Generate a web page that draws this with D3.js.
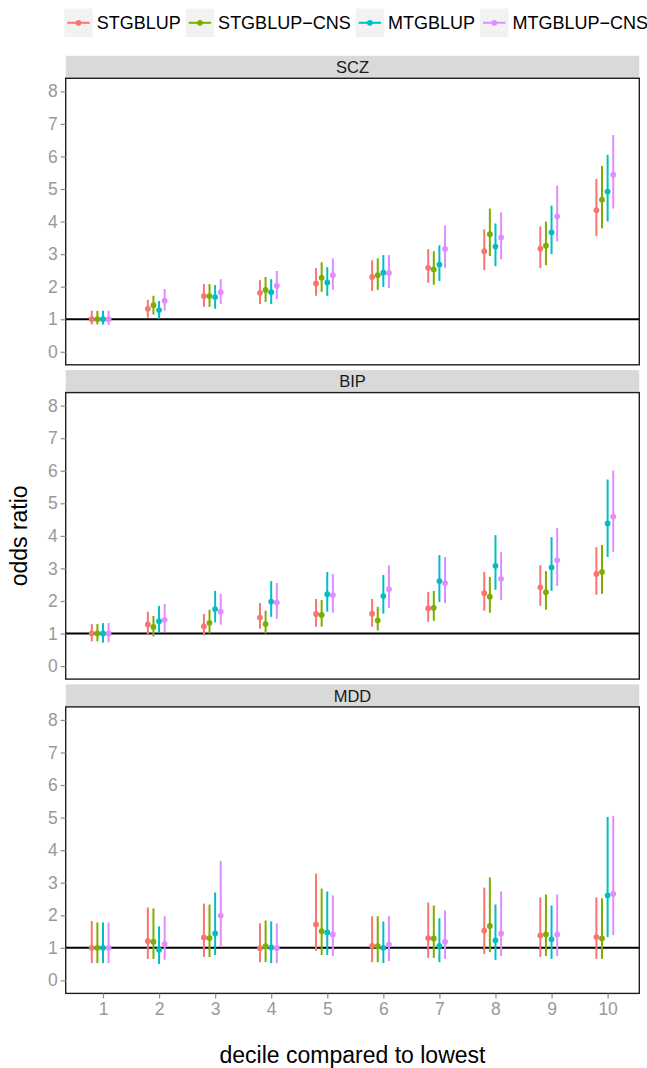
<!DOCTYPE html>
<html>
<head>
<meta charset="utf-8">
<script src="https://cdn.jsdelivr.net/npm/d3@7"></script>
<style>
  body { margin: 0; background: #fff; }
  svg { display: block; font-family: "Liberation Sans", Arial, Helvetica, sans-serif; }
</style>
</head>
<body>
<svg id="chart"></svg>
<script>
// deciles and methods
const deciles = [1, 2, 3, 4, 5, 6, 7, 8, 9, 10];
const methods = ["STGBLUP", "STGBLUP\u2212CNS", "MTGBLUP", "MTGBLUP\u2212CNS"];
const colors = ["#F8766D", "#7CAE00", "#00BFC4", "#E08DFF"];
const dodge = [-0.2, -0.1, 0, 0.1];
const panels = ["SCZ", "BIP", "MDD"];
const yTicks = [0, 1, 2, 3, 4, 5, 6, 7, 8];

// rows follow methods order
const sczOR = [
  [1.0, 1.32, 1.71, 1.81, 2.10, 2.30, 2.58, 3.09, 3.17, 4.35],
  [1.0, 1.43, 1.71, 1.90, 2.27, 2.35, 2.53, 3.61, 3.26, 4.67],
  [1.0, 1.28, 1.68, 1.83, 2.13, 2.43, 2.68, 3.23, 3.67, 4.92],
  [1.0, 1.57, 1.83, 2.03, 2.35, 2.42, 3.16, 3.51, 4.16, 5.44]
];
const sczLo = [
  [0.84, 1.05, 1.38, 1.47, 1.72, 1.87, 2.12, 2.51, 2.57, 3.55],
  [0.84, 1.14, 1.38, 1.53, 1.84, 1.90, 2.06, 2.94, 2.66, 3.79],
  [0.84, 1.02, 1.32, 1.47, 1.72, 1.99, 2.17, 2.63, 3.00, 4.00],
  [0.82, 1.26, 1.47, 1.62, 1.90, 1.96, 2.57, 2.84, 3.39, 4.40]
];
const sczHi = [
  [1.26, 1.59, 2.08, 2.20, 2.57, 2.81, 3.15, 3.76, 3.85, 5.31],
  [1.26, 1.72, 2.08, 2.30, 2.75, 2.87, 3.09, 4.40, 4.00, 5.71],
  [1.26, 1.56, 2.05, 2.23, 2.60, 2.97, 3.27, 3.94, 4.49, 6.05],
  [1.26, 1.93, 2.23, 2.48, 2.87, 2.97, 3.88, 4.28, 5.10, 6.66]
];

const bipOR = [
  [1.0, 1.28, 1.22, 1.49, 1.60, 1.61, 1.77, 2.24, 2.42, 2.83],
  [1.0, 1.20, 1.33, 1.29, 1.57, 1.40, 1.79, 2.13, 2.27, 2.89],
  [1.0, 1.38, 1.75, 1.98, 2.21, 2.15, 2.61, 3.08, 3.03, 4.38],
  [1.0, 1.42, 1.67, 1.95, 2.18, 2.36, 2.55, 2.68, 3.25, 4.59]
];
const bipLo = [
  [0.76, 0.97, 0.94, 1.15, 1.21, 1.21, 1.36, 1.70, 1.85, 2.19],
  [0.76, 0.91, 1.00, 1.00, 1.21, 1.09, 1.39, 1.64, 1.73, 2.22],
  [0.72, 1.03, 1.34, 1.51, 1.67, 1.61, 1.97, 2.34, 2.31, 3.35],
  [0.73, 1.05, 1.27, 1.45, 1.64, 1.79, 1.94, 2.03, 2.46, 3.51]
];
const bipHi = [
  [1.29, 1.67, 1.60, 1.94, 2.06, 2.06, 2.28, 2.89, 3.10, 3.65],
  [1.29, 1.54, 1.73, 1.70, 2.03, 1.82, 2.31, 2.74, 2.92, 3.72],
  [1.32, 1.85, 2.31, 2.61, 2.89, 2.80, 3.41, 4.02, 3.96, 5.73],
  [1.32, 1.91, 2.22, 2.55, 2.83, 3.10, 3.35, 3.50, 4.24, 6.01]
];

const mddOR = [
  [1.0, 1.21, 1.32, 0.99, 1.72, 1.06, 1.30, 1.53, 1.38, 1.33],
  [1.0, 1.19, 1.30, 1.05, 1.51, 1.05, 1.29, 1.67, 1.41, 1.29],
  [1.0, 0.94, 1.44, 1.01, 1.47, 1.00, 1.06, 1.23, 1.26, 2.61],
  [1.0, 1.12, 1.99, 0.99, 1.41, 1.10, 1.19, 1.44, 1.41, 2.66]
];
const mddLo = [
  [0.53, 0.66, 0.72, 0.56, 0.91, 0.56, 0.69, 0.81, 0.72, 0.66],
  [0.53, 0.66, 0.72, 0.56, 0.78, 0.56, 0.69, 0.87, 0.75, 0.66],
  [0.53, 0.50, 0.78, 0.53, 0.78, 0.53, 0.56, 0.63, 0.66, 1.33],
  [0.53, 0.63, 1.05, 0.53, 0.75, 0.59, 0.66, 0.75, 0.75, 1.39]
];
const mddHi = [
  [1.82, 2.24, 2.36, 1.75, 3.28, 1.97, 2.39, 2.85, 2.55, 2.55],
  [1.78, 2.21, 2.33, 1.84, 2.82, 1.97, 2.30, 3.16, 2.64, 2.52],
  [1.78, 1.66, 2.70, 1.81, 2.73, 1.81, 1.91, 2.33, 2.30, 5.02],
  [1.78, 1.97, 3.67, 1.75, 2.61, 1.97, 2.15, 2.73, 2.64, 5.05]
];

const panelData = [
  [sczOR, sczLo, sczHi],
  [bipOR, bipLo, bipHi],
  [mddOR, mddLo, mddHi]
];

const width = 647, height = 1068;
const plotL = 65.7, plotR = 639.3;
const stripH = 22.5, plotH = 286.5, panelStep = 314.3;
const firstTop = 78.3;

const svg = d3.select('#chart').attr('width', width).attr('height', height);

const x = d3.scaleLinear().domain([0.335, 10.565]).range([plotL, plotR]);

panels.forEach((name, pi) => {
    const top = firstTop + pi * panelStep;
    const y = d3.scaleLinear().domain([-0.4, 8.4]).range([top + plotH, top]);
    const [or, lo, hi] = panelData[pi];

    // strip
    svg.append('rect')
        .attr('x', plotL).attr('y', top - stripH)
        .attr('width', plotR - plotL).attr('height', stripH)
        .attr('fill', '#d9d9d9');
    svg.append('text')
        .attr('x', (plotL + plotR) / 2).attr('y', top - stripH / 2)
        .attr('dy', '0.36em')
        .attr('text-anchor', 'middle')
        .attr('font-size', 16.5)
        .attr('fill', '#1a1a1a')
        .text(name);

    // reference line at 1
    svg.append('line')
        .attr('x1', plotL).attr('x2', plotR)
        .attr('y1', y(1)).attr('y2', y(1))
        .attr('stroke', '#000').attr('stroke-width', 1.9);

    const rows = [];
    methods.forEach((m, mi) => {
        deciles.forEach((d, di) => {
            rows.push({ mi, xv: d + dodge[mi], or: or[mi][di], lo: lo[mi][di], hi: hi[mi][di] });
        });
    });

    const g = svg.append('g');
    g.selectAll('.ci')
        .data(rows)
        .enter().append('line')
        .attr('class', 'ci')
        .attr('x1', r => x(r.xv)).attr('x2', r => x(r.xv))
        .attr('y1', r => y(r.lo)).attr('y2', r => y(r.hi))
        .attr('stroke', r => colors[r.mi])
        .attr('stroke-width', 2);

    g.selectAll('.pt')
        .data(rows)
        .enter().append('circle')
        .attr('class', 'pt')
        .attr('cx', r => x(r.xv)).attr('cy', r => y(r.or))
        .attr('r', 2.9)
        .attr('fill', r => colors[r.mi]);

    // panel border
    svg.append('rect')
        .attr('x', plotL).attr('y', top)
        .attr('width', plotR - plotL).attr('height', plotH)
        .attr('fill', 'none')
        .attr('stroke', '#1f1f1f').attr('stroke-width', 1.4);

    // y axis
    const yAxis = svg.append('g')
        .attr('transform', `translate(${plotL},0)`)
        .call(d3.axisLeft(y).tickValues(yTicks).tickSize(5).tickPadding(3));
    yAxis.select('.domain').remove();
    yAxis.selectAll('.tick line').attr('stroke', '#8c8c8c').attr('stroke-width', 1.2);
    yAxis.selectAll('.tick text')
        .attr('fill', '#999')
        .attr('font-size', 17.5)
        .attr('font-family', '"Liberation Sans", Arial, sans-serif');

    // x axis only on bottom panel
    if (pi === panels.length - 1) {
        const xAxis = svg.append('g')
            .attr('transform', `translate(0,${top + plotH})`)
            .call(d3.axisBottom(x).tickValues(deciles).tickSize(5).tickPadding(4));
        xAxis.select('.domain').remove();
        xAxis.selectAll('.tick line').attr('stroke', '#8c8c8c').attr('stroke-width', 1.2);
        xAxis.selectAll('.tick text')
            .attr('fill', '#999')
            .attr('font-size', 17.5)
            .attr('font-family', '"Liberation Sans", Arial, sans-serif');
    }
});

// axis titles
svg.append('text')
    .attr('x', (plotL + plotR) / 2).attr('y', 1063)
    .attr('text-anchor', 'middle')
    .attr('font-size', 23)
    .attr('fill', '#000')
    .text('decile compared to lowest');

svg.append('text')
    .attr('transform', `translate(27,${(firstTop + 2 * panelStep + plotH + firstTop) / 2}) rotate(-90)`)
    .attr('text-anchor', 'middle')
    .attr('font-size', 23)
    .attr('fill', '#000')
    .text('odds ratio');

// legend
const legend = svg.append('g');
const keySize = 28.4, keyTop = 8.6;
let lx = 0;
methods.forEach((m, i) => {
    const item = legend.append('g').attr('transform', `translate(${lx},0)`);
    item.append('rect')
        .attr('x', 0).attr('y', keyTop)
        .attr('width', keySize).attr('height', keySize)
        .attr('fill', '#f2f2f2');
    item.append('line')
        .attr('x1', 3).attr('x2', keySize - 3)
        .attr('y1', keyTop + keySize / 2).attr('y2', keyTop + keySize / 2)
        .attr('stroke', colors[i]).attr('stroke-width', 2);
    item.append('circle')
        .attr('cx', keySize / 2).attr('cy', keyTop + keySize / 2)
        .attr('r', 2.9).attr('fill', colors[i]);
    const t = item.append('text')
        .attr('x', keySize + 4).attr('y', keyTop + keySize / 2)
        .attr('dy', '0.36em')
        .attr('font-size', 18)
        .attr('fill', '#000')
        .text(m);
    lx += keySize + 4 + t.node().getComputedTextLength() + 5;
});
legend.attr('transform', 'translate(64.3,0)');
</script>
</body>
</html>
